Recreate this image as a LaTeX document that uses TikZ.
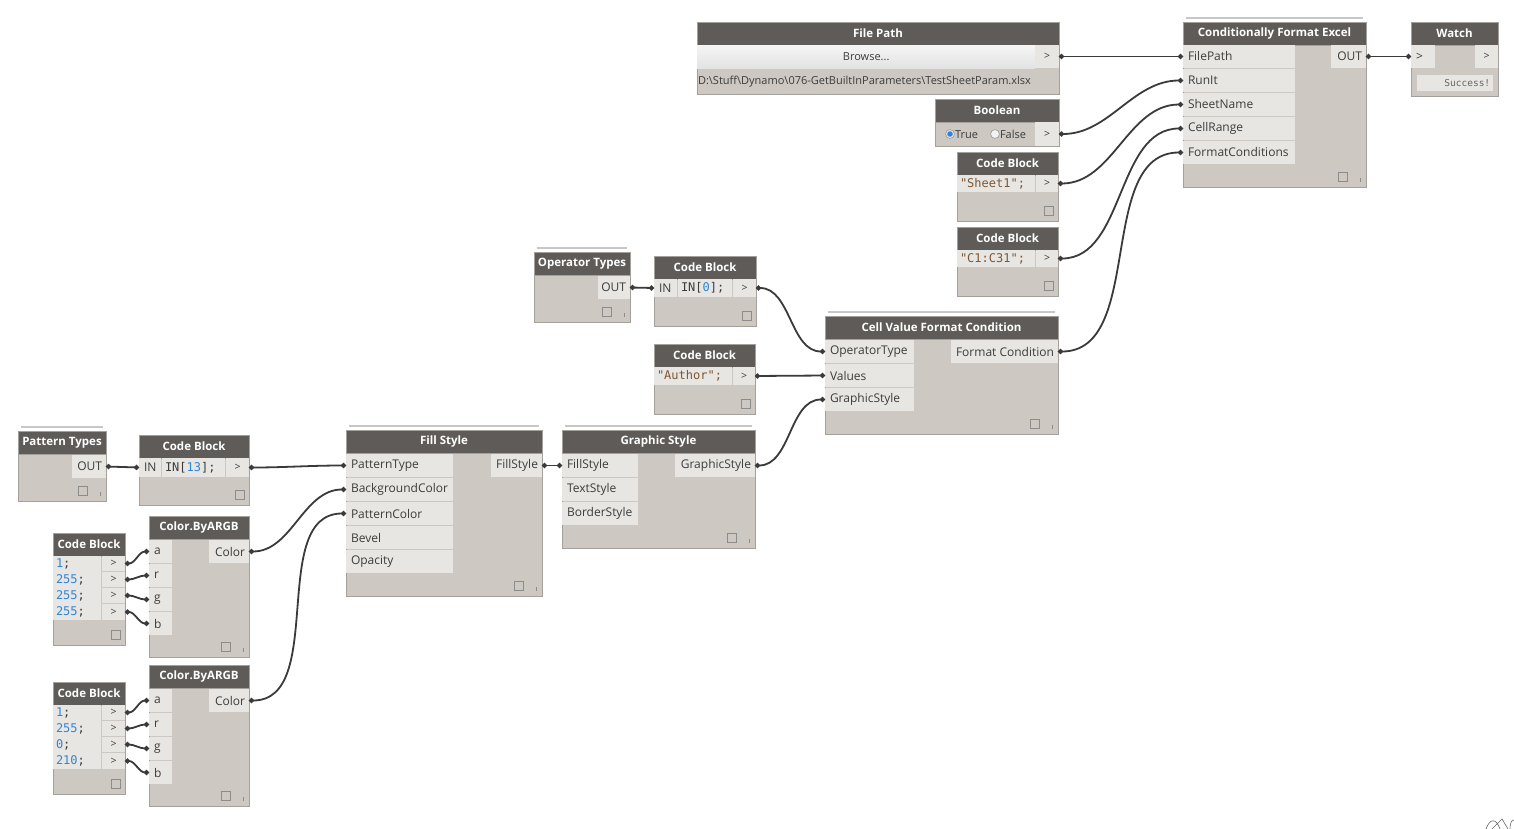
\documentclass[tikz,border=0pt]{standalone}
\usepackage{fontspec}
\setmainfont{Open Sans}
\newfontfamily\monof{DejaVu Sans Mono}
\usetikzlibrary{arrows.meta}
\definecolor{hdr}{HTML}{5E5B58}
\definecolor{bdy}{HTML}{CDC9C2}
\definecolor{cel}{HTML}{E8E6E2}
\definecolor{brd}{HTML}{A4A09B}
\definecolor{txt}{HTML}{3C3C3C}
\definecolor{num}{HTML}{2F86D8}
\definecolor{str}{HTML}{7E5634}
\definecolor{wirec}{HTML}{3A3A3A}
\tikzset{
 dbody/.style={draw=brd, fill=bdy, line width=0.8pt, inner sep=0, outer sep=0},
 dhead/.style={fill=hdr, draw=brd, line width=0.8pt, inner sep=0, outer sep=0, minimum height=23, text=white, font=\fontsize{11.5}{13}\selectfont\bfseries},
 pcell/.style={fill=cel, inner sep=0, outer sep=0, minimum height=23},
 ptxt/.style={text=txt, font=\fontsize{12}{13}\selectfont, inner sep=0, outer sep=0},
 ctxt/.style={text=txt, font=\fontsize{12}{13}\selectfont\monof, inner sep=0, outer sep=0},
 wire/.style={draw=wirec, line width=1.8pt, {Circle[length=5pt]}-{Circle[length=5pt]}},
 curv/.style={out=0, in=180, looseness=0.95},
 stackl/.style={draw=black!22, line width=1.5pt},
 footc/.style={draw=black!45, line width=0.6pt},
}
\newcommand\dyn[6]{%
 \node[dbody, anchor=north west, minimum width=#4, minimum height=#5] (#1) at (#2,#3) {};
 \node[dhead, anchor=north west, minimum width=#4] (#1-h) at (#2,#3) {#6};}
\newcommand\stk[1]{\draw[stackl] ([xshift=3pt,yshift=4pt]#1.north west) -- ([xshift=-3pt,yshift=4pt]#1.north east);}
\newcommand\fta[1]{\draw[footc] ([xshift=-28pt,yshift=15pt]#1.south east) rectangle ++(9,9);
 \draw[footc] ([xshift=-6pt,yshift=9pt]#1.south east) -- ++(0,4);}
\newcommand\ftb[1]{\draw[footc] ([xshift=-14pt,yshift=15pt]#1.south east) rectangle ++(9,9);}
\newcommand\pin[6]{%
 \node[pcell, anchor=north west, minimum width=#4, minimum height=#5] (#1) at (#2,#3) {};
 \node[ptxt, anchor=west, xshift=5pt] at (#1.west) {#6};}
\newcommand\pout[6]{%
 \node[pcell, anchor=north west, minimum width=#4, minimum height=#5] (#1) at (#2,#3) {};
 \node[ptxt, anchor=east, xshift=-4pt] at (#1.east) {#6};}
\newcommand\pcen[6]{%
 \node[pcell, anchor=north west, minimum width=#4, minimum height=#5] (#1) at (#2,#3) {};
 \node[ptxt, font=\fontsize{10.5}{12}\selectfont] at (#1.center) {#6};}
\newcommand\pcode[6]{%
 \node[pcell, anchor=north west, minimum width=#4, minimum height=#5] (#1) at (#2,#3) {};
 \node[ctxt, anchor=west, xshift=3pt] at (#1.west) {#6};}
\begin{document}
\begin{tikzpicture}[x=1pt,y=-1pt]
\useasboundingbox[fill=white] (0,0) rectangle (1514,829);

% ---------- File Path
\dyn{fp}{697}{22}{362}{72}{File Path}
\node[anchor=north west, minimum width=338, minimum height=23, inner sep=0, top color=black!4, bottom color=black!11] (fp-b) at (697,45) {};
\node[ptxt, font=\fontsize{11}{12}\selectfont] at (fp-b.center) {Browse...};
\pcen{fp-o}{1035}{45}{24}{23}{>}
\node[ptxt, font=\fontsize{11}{12}\selectfont, anchor=west] at (698,82) {D:\textbackslash Stuff\textbackslash Dynamo\textbackslash 076-GetBuiltInParameters\textbackslash TestSheetParam.xlsx};

% ---------- Boolean
\dyn{bo}{935}{99}{124}{47}{Boolean}
\pcen{bo-o}{1035}{122}{24}{24}{>}
\draw[black!45, fill=black!8, line width=0.5pt] (950,134) circle (4.4);
\fill[num] (950,134) circle (2.8);
\node[ptxt, font=\fontsize{11}{12}\selectfont, anchor=west] at (955,134.5) {True};
\draw[black!45, fill=black!5, line width=0.5pt] (995,134) circle (4.4);
\node[ptxt, font=\fontsize{11}{12}\selectfont, anchor=west] at (1000,134.5) {False};

% ---------- Code Block Sheet1
\dyn{cs}{957}{152}{101}{69}{Code Block}
\pcode{cs-c}{957}{175}{78}{17}{\color{str}"Sheet1";}
\pcen{cs-o}{1036}{175}{22}{17}{>}
\ftb{cs}

% ---------- Code Block C1:C31
\dyn{cc}{957}{227}{101}{69}{Code Block}
\pcode{cc-c}{957}{250}{78}{17}{\color{str}"C1:C31";}
\pcen{cc-o}{1036}{250}{22}{17}{>}
\ftb{cc}

% ---------- Conditionally Format Excel
\dyn{cfe}{1183}{22}{183}{165}{Conditionally Format Excel}
\stk{cfe}
\pin{cfe-fp}{1183}{45}{112}{23}{FilePath}
\pin{cfe-ri}{1183}{69}{112}{23}{RunIt}
\pin{cfe-sn}{1183}{93}{112}{23}{SheetName}
\pin{cfe-cr}{1183}{117}{112}{23}{CellRange}
\pin{cfe-fc}{1183}{141}{112}{23}{FormatConditions}
\pout{cfe-o}{1331}{45}{35}{23}{OUT}
\fta{cfe}

% ---------- Watch
\dyn{wa}{1411}{22}{87}{74}{Watch}
\pin{wa-i}{1411}{45}{24}{23}{>}
\pcen{wa-o}{1475}{45}{23}{23}{>}
\node[fill=cel, anchor=north west, minimum width=76, minimum height=16, inner sep=0] (wa-s) at (1417,75) {};
\node[anchor=east, inner sep=0, text=black!60, font=\fontsize{9.5}{10}\selectfont\monof] at ([xshift=-3pt]wa-s.east) {Success!};

% ---------- Operator Types
\dyn{ot}{534}{252}{96}{70}{Operator Types}
\stk{ot}
\pout{ot-o}{598}{276}{32}{23}{OUT}
\fta{ot}

% ---------- Code Block IN[0]
\dyn{c0}{654}{256}{102}{70}{Code Block}
\pin{c0-i}{654}{279}{23}{18}{IN}
\pcode{c0-c}{678}{279}{54}{18}{IN[{\color{num}0}];}
\pcen{c0-o}{733}{279}{23}{18}{>}
\ftb{c0}

% ---------- Code Block Author
\dyn{ca}{654}{344}{101}{70}{Code Block}
\pcode{ca-c}{654}{367}{78}{18}{\color{str}"Author";}
\pcen{ca-o}{733}{367}{22}{18}{>}
\ftb{ca}

% ---------- Cell Value Format Condition
\dyn{cv}{825}{316}{233}{118}{Cell Value Format Condition}
\stk{cv}
\pin{cv-ot}{825}{340}{89}{23}{OperatorType}
\pin{cv-va}{825}{364}{89}{23}{Values}
\pin{cv-gs}{825}{388}{89}{23}{GraphicStyle}
\pout{cv-o}{951}{340}{107}{23}{Format Condition}
\fta{cv}

% ---------- Pattern Types
\dyn{pt}{18}{431}{88}{70}{Pattern Types}
\stk{pt}
\pout{pt-o}{72}{455}{34}{23}{OUT}
\fta{pt}

% ---------- Code Block IN[13]
\dyn{c13}{139}{435}{110}{70}{Code Block}
\pin{c13-i}{139}{458}{22}{19}{IN}
\pcode{c13-c}{162}{458}{63}{19}{IN[{\color{num}13}];}
\pcen{c13-o}{226}{458}{23}{19}{>}
\ftb{c13}

% ---------- Fill Style
\dyn{fs}{346}{430}{196}{166}{Fill Style}
\stk{fs}
\pin{fs-pt}{346}{454}{107}{23}{PatternType}
\pin{fs-bc}{346}{478}{107}{23}{BackgroundColor}
\pin{fs-pc}{346}{502}{107}{23}{PatternColor}
\pin{fs-be}{346}{526}{107}{23}{Bevel}
\pin{fs-op}{346}{550}{107}{23}{Opacity}
\pout{fs-o}{491}{454}{51}{23}{FillStyle}
\fta{fs}

% ---------- Graphic Style
\dyn{gs}{562}{430}{193}{118}{Graphic Style}
\stk{gs}
\pin{gs-fs}{562}{454}{76}{23}{FillStyle}
\pin{gs-ts}{562}{478}{76}{23}{TextStyle}
\pin{gs-bs}{562}{502}{76}{23}{BorderStyle}
\pout{gs-o}{675}{454}{80}{23}{GraphicStyle}
\fta{gs}

% ---------- Code Block 1;255;255;255
\dyn{k1}{53}{533}{72}{112}{Code Block}
\pcode{k1-c1}{53}{556}{48}{16}{\color{num}1\color{txt};}
\pcode{k1-c2}{53}{572}{48}{16}{\color{num}255\color{txt};}
\pcode{k1-c3}{53}{588}{48}{16}{\color{num}255\color{txt};}
\pcode{k1-c4}{53}{604}{48}{16}{\color{num}255\color{txt};}
\pcen{k1-o1}{102}{556}{23}{15}{>}
\pcen{k1-o2}{102}{572}{23}{15}{>}
\pcen{k1-o3}{102}{588}{23}{15}{>}
\pcen{k1-o4}{102}{604}{23}{16}{>}
\ftb{k1}

% ---------- Color.ByARGB 1
\dyn{cl1}{149}{516}{100}{141}{Color.ByARGB}
\pin{cl1-a}{149}{540}{23}{23}{a}
\pin{cl1-r}{149}{564}{23}{23}{r}
\pin{cl1-g}{149}{588}{23}{23}{g}
\pin{cl1-b}{149}{612}{23}{23}{b}
\pout{cl1-o}{209}{540}{40}{23}{Color}
\fta{cl1}

% ---------- Code Block 1;255;0;210
\dyn{k2}{53}{682}{72}{112}{Code Block}
\pcode{k2-c1}{53}{705}{48}{16}{\color{num}1\color{txt};}
\pcode{k2-c2}{53}{721}{48}{16}{\color{num}255\color{txt};}
\pcode{k2-c3}{53}{737}{48}{16}{\color{num}0\color{txt};}
\pcode{k2-c4}{53}{753}{48}{16}{\color{num}210\color{txt};}
\pcen{k2-o1}{102}{705}{23}{15}{>}
\pcen{k2-o2}{102}{721}{23}{15}{>}
\pcen{k2-o3}{102}{737}{23}{15}{>}
\pcen{k2-o4}{102}{753}{23}{16}{>}
\ftb{k2}

% ---------- Color.ByARGB 2
\dyn{cl2}{149}{665}{100}{141}{Color.ByARGB}
\pin{cl2-a}{149}{689}{23}{23}{a}
\pin{cl2-r}{149}{713}{23}{23}{r}
\pin{cl2-g}{149}{737}{23}{23}{g}
\pin{cl2-b}{149}{761}{23}{23}{b}
\pout{cl2-o}{209}{689}{40}{23}{Color}
\fta{cl2}

% ---------- wires
\draw[wire] (fp-o.east) -- (cfe-fp.west);
\draw[wire] (bo-o.east) to[curv] (cfe-ri.west);
\draw[wire] (cs-o.east) to[curv] (cfe-sn.west);
\draw[wire] (cc-o.east) to[curv] (cfe-cr.west);
\draw[wire] (cv-o.east) to[curv] (cfe-fc.west);
\draw[wire] (cfe-o.east) -- (wa-i.west);
\draw[wire] (ot-o.east) -- (c0-i.west);
\draw[wire] (c0-o.east) to[curv] (cv-ot.west);
\draw[wire] (ca-o.east) -- (cv-va.west);
\draw[wire] (gs-o.east) to[curv] (cv-gs.west);
\draw[wire] (pt-o.east) -- (c13-i.west);
\draw[wire] (c13-o.east) to[curv] (fs-pt.west);
\draw[wire] (cl1-o.east) to[curv] (fs-bc.west);
\draw[wire] (cl2-o.east) to[curv] (fs-pc.west);
\draw[wire] (fs-o.east) -- (gs-fs.west);
\draw[wire] (k1-o1.east) to[curv] (cl1-a.west);
\draw[wire] (k1-o2.east) to[curv] (cl1-r.west);
\draw[wire] (k1-o3.east) to[curv] (cl1-g.west);
\draw[wire] (k1-o4.east) to[curv] (cl1-b.west);
\draw[wire] (k2-o1.east) to[curv] (cl2-a.west);
\draw[wire] (k2-o2.east) to[curv] (cl2-r.west);
\draw[wire] (k2-o3.east) to[curv] (cl2-g.west);
\draw[wire] (k2-o4.east) to[curv] (cl2-b.west);

% corner glyph
\draw[black!60, line width=0.6pt] (1486,829) .. controls (1490,818) and (1496,818) .. (1500,829);
\draw[black!60, line width=0.6pt] (1492,829) -- (1502,819) -- (1508,829);
\draw[black!60, line width=0.6pt] (1510,829) .. controls (1510,822) and (1512,820) .. (1514,820);
\end{tikzpicture}
\end{document}
